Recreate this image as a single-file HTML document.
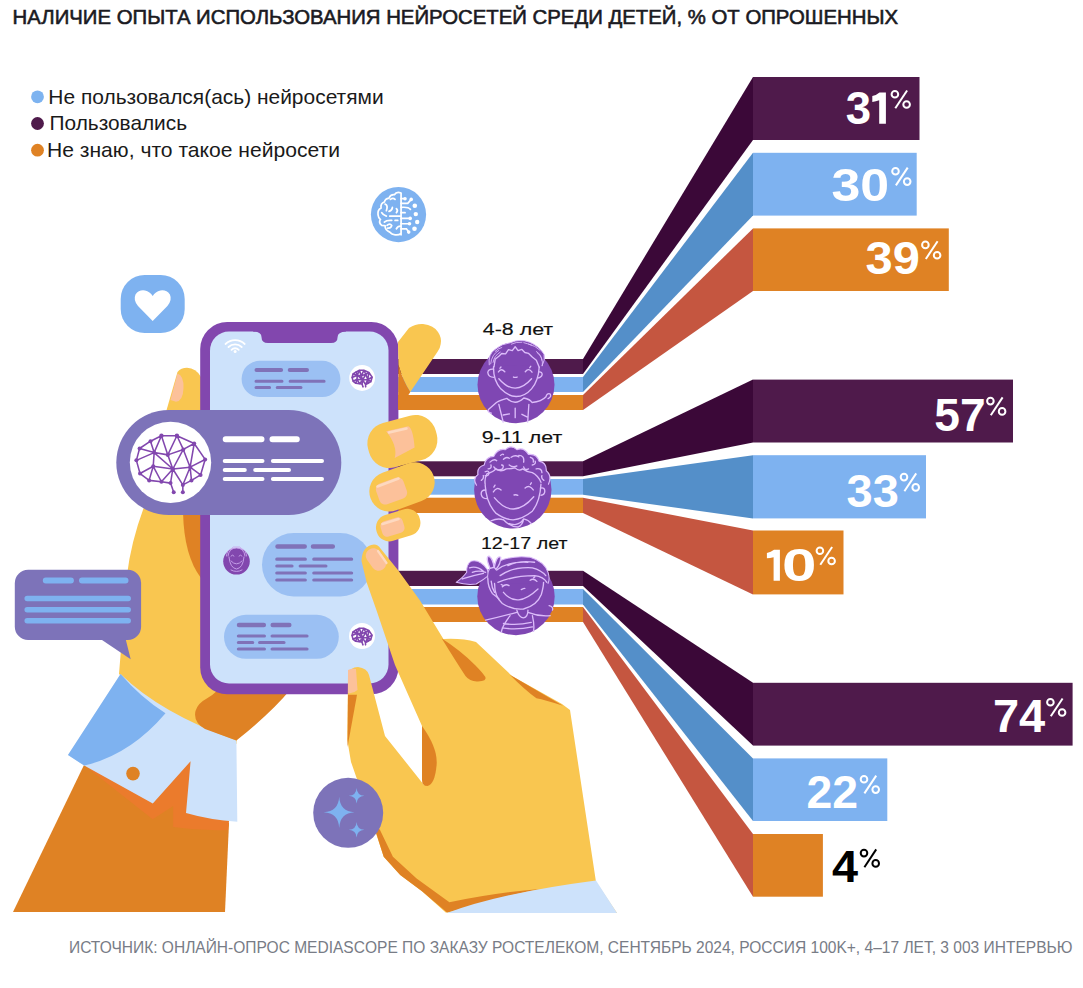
<!DOCTYPE html>
<html><head><meta charset="utf-8">
<style>
html,body{margin:0;padding:0;background:#fff;width:1083px;height:988px;overflow:hidden}
svg{display:block}
text{font-family:"Liberation Sans",sans-serif}
</style></head><body>
<svg width="1083" height="988" viewBox="0 0 1083 988">
<rect width="1083" height="988" fill="#fff"/>
<!-- TITLE -->
<text id="tt" x="12.59" y="23.9" font-size="20.9" fill="#1a1a22" stroke="#1a1a22" stroke-width="0.6" textLength="885.41" lengthAdjust="spacingAndGlyphs">НАЛИЧИЕ ОПЫТА ИСПОЛЬЗОВАНИЯ НЕЙРОСЕТЕЙ СРЕДИ ДЕТЕЙ, % ОТ ОПРОШЕННЫХ</text>
<!-- LEGEND -->
<circle cx="37.5" cy="96.8" r="6.4" fill="#7db3f0"/>
<circle cx="37.5" cy="123.5" r="6.4" fill="#4f1a4b"/>
<circle cx="37.5" cy="150.2" r="6.4" fill="#df8224"/>
<text id="l1" x="48.37" y="104" font-size="20.6" fill="#1a1a1a" textLength="335.25" lengthAdjust="spacingAndGlyphs">Не пользовался(ась) нейросетями</text>
<text id="l2" x="49.55" y="130.3" font-size="20.6" fill="#1a1a1a" textLength="137.47" lengthAdjust="spacingAndGlyphs">Пользовались</text>
<text id="l3" x="46.98" y="156.7" font-size="20.6" fill="#1a1a1a" textLength="293.04" lengthAdjust="spacingAndGlyphs">Не знаю, что такое нейросети</text>
<!-- FOOTER -->
<text id="ft" x="69.00" y="952.8" font-size="17.1" fill="#787c86" textLength="1003.40" lengthAdjust="spacingAndGlyphs">ИСТОЧНИК: ОНЛАЙН-ОПРОС MEDIASCOPE ПО ЗАКАЗУ РОСТЕЛЕКОМ, СЕНТЯБРЬ 2024, РОССИЯ 100K+, 4–17 ЛЕТ, 3 003 ИНТЕРВЬЮ</text>

<!-- BAR SIDES -->
<g id="sides">
<polygon points="583,359 753,77 753,140 583,374" fill="#3b0838"/>
<polygon points="583,377 753,152.8 753,215.6 583,392" fill="#548fc9"/>
<polygon points="583,395 753,228.4 753,291 583,410" fill="#c55640"/>

<polygon points="583,461.3 753,379.6 753,442.5 583,476.3" fill="#3b0838"/>
<polygon points="583,479 753,455.2 753,518.4 583,494.7" fill="#548fc9"/>
<polygon points="583,497.7 753,530.5 753,594.4 583,513" fill="#c55640"/>

<polygon points="583,570.8 753,682.8 753,745.6 583,586" fill="#3b0838"/>
<polygon points="583,589 753,758.4 753,821 583,604.5" fill="#548fc9"/>
<polygon points="583,607 753,834 753,896.7 583,622" fill="#c55640"/>
</g>
<!-- BARS -->
<g id="bars">
<rect x="753" y="77" width="166.5" height="63" fill="#4f1a4b"/>
<rect x="753" y="152.8" width="163.7" height="62.8" fill="#7eb2f0"/>
<rect x="753" y="228.4" width="195.8" height="62.6" fill="#df8224"/>

<rect x="753" y="379.6" width="260" height="62.9" fill="#4f1a4b"/>
<rect x="753" y="455.2" width="173" height="63.2" fill="#7eb2f0"/>
<rect x="753" y="530.5" width="90.5" height="63.9" fill="#df8224"/>

<rect x="753" y="682.8" width="319.6" height="62.8" fill="#4f1a4b"/>
<rect x="753" y="758.4" width="134.3" height="62.6" fill="#7eb2f0"/>
<rect x="753" y="834" width="69.9" height="62.7" fill="#df8224"/>
</g>
<!-- PERCENT LABELS -->
<g>
<text x="845.79" y="124.43" font-size="46.76" font-weight="bold" fill="#fff" textLength="25.36" lengthAdjust="spacingAndGlyphs">3</text>
<text x="831.46" y="200.54" font-size="46.48" font-weight="bold" fill="#fff" textLength="57.63" lengthAdjust="spacingAndGlyphs">30</text>
<text x="865.52" y="274.43" font-size="46.90" font-weight="bold" fill="#fff" textLength="54.35" lengthAdjust="spacingAndGlyphs">39</text>
<text x="934.32" y="430.64" font-size="46.14" font-weight="bold" fill="#fff" textLength="51.34" lengthAdjust="spacingAndGlyphs">57</text>
<text x="846.56" y="506.53" font-size="46.76" font-weight="bold" fill="#fff" textLength="52.33" lengthAdjust="spacingAndGlyphs">33</text>
<text x="781.92" y="581.14" font-size="46.48" font-weight="bold" fill="#fff" textLength="34.44" lengthAdjust="spacingAndGlyphs">0</text>
<text x="992.92" y="732.40" font-size="45.36" font-weight="bold" fill="#fff" textLength="52.29" lengthAdjust="spacingAndGlyphs">74</text>
<text x="806.51" y="808.40" font-size="46.29" font-weight="bold" fill="#fff" textLength="51.55" lengthAdjust="spacingAndGlyphs">22</text>
<text x="832.06" y="881.90" font-size="45.07" font-weight="bold" fill="#000" textLength="26.03" lengthAdjust="spacingAndGlyphs">4</text>
<g transform="translate(890.5,90.0)" fill="none" stroke="#fff" stroke-width="2"><circle cx="4.4" cy="4.2" r="3.3"/><circle cx="16.1" cy="14.5" r="3.3"/><path d="M16.6,0.5 L4.8,18.3"/></g>
<g transform="translate(891.1,167.1)" fill="none" stroke="#fff" stroke-width="2"><circle cx="4.4" cy="4.2" r="3.3"/><circle cx="16.1" cy="14.5" r="3.3"/><path d="M16.6,0.5 L4.8,18.3"/></g>
<g transform="translate(921.0,240.7)" fill="none" stroke="#fff" stroke-width="2"><circle cx="4.4" cy="4.2" r="3.3"/><circle cx="16.1" cy="14.5" r="3.3"/><path d="M16.6,0.5 L4.8,18.3"/></g>
<g transform="translate(986.0,396.9)" fill="none" stroke="#fff" stroke-width="2"><circle cx="4.4" cy="4.2" r="3.3"/><circle cx="16.1" cy="14.5" r="3.3"/><path d="M16.6,0.5 L4.8,18.3"/></g>
<g transform="translate(899.6,472.9)" fill="none" stroke="#fff" stroke-width="2"><circle cx="4.4" cy="4.2" r="3.3"/><circle cx="16.1" cy="14.5" r="3.3"/><path d="M16.6,0.5 L4.8,18.3"/></g>
<g transform="translate(815.5,546.5)" fill="none" stroke="#fff" stroke-width="2"><circle cx="4.4" cy="4.2" r="3.3"/><circle cx="16.1" cy="14.5" r="3.3"/><path d="M16.6,0.5 L4.8,18.3"/></g>
<g transform="translate(1046.0,698.0)" fill="none" stroke="#fff" stroke-width="2"><circle cx="4.4" cy="4.2" r="3.3"/><circle cx="16.1" cy="14.5" r="3.3"/><path d="M16.6,0.5 L4.8,18.3"/></g>
<g transform="translate(859.6,775.1)" fill="none" stroke="#fff" stroke-width="2"><circle cx="4.4" cy="4.2" r="3.3"/><circle cx="16.1" cy="14.5" r="3.3"/><path d="M16.6,0.5 L4.8,18.3"/></g>
<g transform="translate(859.6,848.9)" fill="none" stroke="#000" stroke-width="2"><circle cx="4.4" cy="4.2" r="3.3"/><circle cx="16.1" cy="14.5" r="3.3"/><path d="M16.6,0.5 L4.8,18.3"/></g>

<path d="M885.9,92.6 L885.9,123.8 L879.2,123.8 L879.2,100.3 Q876,101.6 872.3,102.1 L872.3,96.1 Q877,95 879.5,92.6 Z" fill="#fff"/>
<path d="M779.9,549.7 L779.9,580.7 L773.6,580.7 L773.6,557.2 Q770,558 766.9,558.3 L766.9,553 Q771,552 774,549.7 Z" fill="#fff"/>
</g>
<!-- STRIPES -->
<g id="stripes">
<rect x="398" y="359" width="185" height="15" fill="#4f1a4b"/>
<rect x="398" y="377" width="185" height="15" fill="#7eb2f0"/>
<rect x="398" y="395" width="185" height="15" fill="#df8224"/>
<rect x="398" y="461.3" width="185" height="15" fill="#4f1a4b"/>
<rect x="398" y="479" width="185" height="15.7" fill="#7eb2f0"/>
<rect x="398" y="497.7" width="185" height="15.3" fill="#df8224"/>
<rect x="398" y="570.8" width="185" height="15.2" fill="#4f1a4b"/>
<rect x="398" y="589" width="185" height="15.5" fill="#7eb2f0"/>
<rect x="398" y="607" width="185" height="15" fill="#df8224"/>
</g>
<!-- AGE LABELS -->
<g font-size="17" fill="#111" stroke="#111" stroke-width="0.15">
<text id="a1" x="482.88" y="334.9" textLength="70.25" lengthAdjust="spacingAndGlyphs">4-8 лет</text>
<text id="a2" x="481.74" y="443.4" textLength="80.49" lengthAdjust="spacingAndGlyphs">9-11 лет</text>
<text id="a3" x="480.93" y="548.7" textLength="86.51" lengthAdjust="spacingAndGlyphs">12-17 лет</text>
</g>
<!-- AVATARS -->
<g id="avatars">
<circle cx="516" cy="384.8" r="38.5" fill="#7f47b3"/>
<g transform="translate(470,335) scale(0.09615)" fill="none" stroke="#dcbcfa" stroke-width="14" stroke-linecap="round" stroke-linejoin="round">
<path d="M200,310 Q185,200 260,150 Q330,90 420,80 Q520,35 620,75 Q720,115 770,200 Q785,260 750,320 Z" fill="#7f47b3" stroke="none"/><path d="M200,310 Q185,200 260,150 Q330,90 420,80 Q520,35 620,75 Q720,115 770,200 Q785,260 750,320" stroke-width="10"/>
<path d="M250,330 L262,252 L300,222 L330,192 L370,197 L400,152 L440,162 L470,122 L500,162 L540,150 L570,182 L610,192 L650,232 L690,262 L720,335"/>
<path d="M245,330 Q240,470 320,560 Q400,640 480,640 Q570,640 640,560 Q710,480 720,335"/>
<path d="M245,355 Q190,350 185,390 Q190,440 250,440 M715,385 Q752,380 750,412 Q745,440 705,447"/>
<path d="M295,385 Q322,340 362,382 M575,382 Q610,337 645,387 M312,345 L322,333 M622,340 L632,325"/>
<path d="M452,437 Q470,445 490,437"/>
<path d="M215,300 Q225,200 300,160 M240,285 Q250,215 315,178 M262,170 Q290,140 330,130 M700,185 Q765,235 752,320 M690,172 Q745,205 748,262 M610,95 Q680,110 730,160 M430,95 Q480,70 540,75 M560,80 Q600,90 640,105" stroke-width="9"/>
<path d="M300,455 Q470,650 640,455"/>
<path d="M385,660 Q470,740 560,655 M385,660 Q310,680 275,702 L195,772 Q175,800 222,812 M560,655 Q625,668 645,702 Q745,692 790,642 Q800,602 832,612 Q852,642 812,662 M300,722 L345,905 M612,722 L600,905 M345,832 L410,820 M540,825 L592,852 M470,760 L470,860"/>
</g>

<circle cx="512.8" cy="489.8" r="38.7" fill="#7f47b3"/>
<g transform="translate(465,440) scale(0.09615)" fill="none" stroke="#dcbcfa" stroke-width="14" stroke-linecap="round" stroke-linejoin="round">
<path d="M120,470 Q75,400 135,360 Q121,281 200,260 Q215,172 300,170 Q341,83 420,100 Q477,45 540,100 Q613,72 660,150 Q745,139 770,220 Q850,235 845,320 Q908,371 868,460 L790,520 L210,520 Z" fill="#7f47b3" stroke="none"/><path d="M120,470 Q75,400 135,360 Q121,281 200,260 Q215,172 300,170 Q341,83 420,100 Q477,45 540,100 Q613,72 660,150 Q745,139 770,220 Q850,235 845,320 Q908,371 868,460" stroke-width="12"/>
<path d="M210,460 Q200,400 230,350 Q300,330 320,300 Q370,340 430,300 Q480,300 520,290 Q560,330 600,300 Q640,330 700,340 Q760,370 790,440"/>
<path d="M170,420 Q200,400 190,370 M820,420 Q790,400 800,370 M240,300 Q280,300 270,260 M700,260 Q740,250 730,220 M480,180 Q520,150 560,175 M400,200 Q430,170 460,190 M260,230 Q300,190 330,215 M300,280 Q330,330 390,300 Q410,260 380,260 M460,260 Q500,290 540,270 M560,160 Q620,160 610,230 M610,280 Q620,320 660,300 M210,330 Q250,310 250,350 Q240,380 210,370 M680,180 Q720,190 710,230 M740,300 Q800,290 800,340 M370,160 Q390,140 400,150"/>
<path d="M210,470 Q220,650 320,760 Q420,830 500,830 Q600,820 700,740 Q780,640 790,460"/>
<path d="M215,520 Q160,520 170,570 Q180,610 230,610 M785,500 Q830,490 830,530 Q830,570 790,575"/>
<path d="M295,540 Q330,480 375,520 M625,500 Q670,460 710,520 M300,490 L312,470 M680,462 L690,445"/>
<path d="M510,572 Q530,565 550,575"/>
<path d="M305,600 Q500,840 715,590"/>
<path d="M270,840 Q340,810 400,830 Q440,880 520,880 Q580,870 610,820 Q660,830 690,870 M400,830 Q470,905 550,905 Q600,885 610,820"/>
</g>

<circle cx="516" cy="596.5" r="38.7" fill="#7f47b3"/>
<g transform="translate(450,550) scale(0.11136)" fill="none" stroke="#dcbcfa" stroke-width="12" stroke-linecap="round" stroke-linejoin="round">
<path d="M335,175 Q270,80 190,100 Q145,130 150,200 Q120,245 55,290 Q150,318 235,305 Q305,265 348,228 Z" fill="#7f47b3" stroke-width="9"/>
<path d="M340,260 Q325,150 430,105 Q560,45 720,65 Q850,105 880,200 Q900,260 880,300 L400,300 Z" fill="#7f47b3" stroke="none"/><path d="M340,260 Q325,150 430,105 Q560,45 720,65 Q850,105 880,200 Q900,260 880,300" stroke-width="9"/>
<path d="M175,160 Q240,140 300,190 M110,260 Q200,230 300,210 M200,200 Q260,180 320,200"/>
<path d="M360,165 Q315,60 350,55 Q385,75 395,155 Z M398,155 Q420,45 455,65 Q458,120 412,175 Z" fill="#7f47b3"/>
<path d="M420,180 Q520,100 700,110 M450,230 Q560,150 740,160 Q820,180 860,230 M430,290 Q580,230 760,230 Q840,240 870,290 M520,140 Q620,90 760,110"/>
<path d="M400,300 Q400,420 470,480 Q560,540 660,530 Q780,500 820,400 Q840,330 840,290"/>
<path d="M340,260 Q340,330 380,390 Q420,420 440,440 M370,280 Q375,340 400,380"/>
<path d="M470,330 Q500,300 530,320 M720,272 Q750,250 780,282 M460,310 L480,320 M752,250 L762,240"/>
<path d="M640,355 Q660,345 672,345"/>
<path d="M480,380 Q600,530 790,350"/>
<path d="M600,540 Q620,610 660,610 Q700,600 700,540 M320,630 Q450,600 600,560 M700,560 Q800,600 900,590 M540,590 Q470,680 460,740 M740,590 Q760,680 750,730 M480,660 Q600,680 730,650 M470,700 Q600,720 740,690 M890,500 Q930,510 920,540"/>
</g>
</g>

<!-- ILLUSTRATION -->
<g id="illus">

<!-- LEFT SLEEVE -->
<polygon points="13,912 225,912 229,823 84,765" fill="#df8224"/>
<path d="M84,765 L152.7,819.2 L173.2,806 L173.2,827 Q200,831 228,830 L236,760 L190.9,750 Z" fill="#eb7b2c"/>
<!-- LEFT PALM -->
<path d="M150,470 L240,470 L240,700 L236.4,744 Q160,717 119,674 L127,575 Q133,525 160,470 Z" fill="#f9c650"/>
<path d="M183,512 L201,512 L201,578 Q184,556 183,512 Z" fill="#df8224"/>
<!-- CUFF -->
<path d="M68,755 L120.6,674 Q160,713 236.4,740.5 L237.3,821.7 Q210,820 186,813 L190.6,761.2 L152.8,803.4 L84.2,765.6 Z" fill="#cde2fb"/>
<path d="M68,755 L120.6,674 Q140,697 165.5,713.3 Q130,755 84.2,765.6 Z" fill="#7eb2f0"/>
<circle cx="133" cy="773.6" r="6.8" fill="#df8224"/>
<!-- orange fingers under phone -->
<path d="M218,690 L290,690 Q272,712 236.4,740.5 L205,729 Q193,722 195.5,711 Q198,703 206,699 Q213,695 218,690 Z" fill="#df8224"/>
<!-- LEFT THUMB above bubble -->
<path d="M166,412 L177.5,372 Q181,367.8 187,367.8 Q196,368 201,377 L201,412 Z" fill="#f9c650"/>
<path d="M177.5,373.5 Q184,376 183.5,388 Q183,401 176,401.8 L170.5,400 Z" fill="#fcc19a"/>

<!-- PHONE -->
<rect x="200.2" y="322" width="198.2" height="372.3" rx="27" fill="#8247ae"/>
<rect x="210" y="331.5" width="178.5" height="352" rx="19" fill="#cde2fb"/>
<path d="M253,330 L346,330 L346,331.5 Q337.6,332 337.6,337 Q337.6,343 331,343 L268,343 Q261.5,343 261.5,337 Q261.5,332 253,331.5 Z" fill="#8247ae"/>
<!-- wifi -->
<g fill="none" stroke="#fff" stroke-width="1.8" stroke-linecap="round">
<path d="M225.5,344 A14,14 0 0 1 244.7,344"/>
<path d="M228.5,347 A9.5,9.5 0 0 1 241.7,347"/>
<path d="M231.5,349.8 A5,5 0 0 1 238.7,349.8"/>
</g>
<circle cx="235.1" cy="351.6" r="1.5" fill="#fff"/>

<!-- SCREEN BUBBLES -->
<rect x="241.6" y="360.8" width="98.8" height="36.2" rx="18" fill="#9bc0f3"/>
<g stroke="#8072b8" stroke-linecap="round">
<path d="M256.5,370.1 H281.1 M289.7,370.1 H307" stroke-width="4"/>
<path d="M256,381.2 H282 M290.1,381.2 H324.1 M256,387.6 H269.6 M277.2,387.6 H301" stroke-width="3"/>
</g>
<circle cx="362.1" cy="378" r="12.9" fill="#fff"/>
<g transform="translate(362.1,378.5) scale(0.0265) translate(-502,-505)" stroke="#8247ae" fill="#8247ae" stroke-width="60">
<g fill="none" stroke-linejoin="round" stroke-linecap="round">
<path d="M400,195 L570,195 L760,280 L880,455 L830,625 L730,685 L635,735 M500,715 L400,700 L265,685 L165,610 L125,465 L160,335 L280,255 L400,195 M400,195 L320,380 M280,255 L320,380 L160,335 M320,380 L125,465 M400,195 L470,405 L570,195 L640,345 L760,280 M470,405 L640,345 M320,380 L470,405 M320,380 L525,560 M320,380 L310,530 L165,610 M310,530 L265,685 M310,530 L400,700 M310,530 L525,560 L400,700 M525,560 L500,715 L535,815 M470,405 L525,560 L640,345 L715,540 L760,280 M715,540 L880,455 M715,540 L830,625 M715,540 L730,685 M715,540 L635,735 L525,560 L715,540 M635,735 L635,815"/>
</g>
<g stroke="none">
<circle cx="400" cy="195" r="24"/><circle cx="570" cy="195" r="24"/><circle cx="280" cy="255" r="22"/><circle cx="160" cy="335" r="22"/><circle cx="760" cy="280" r="22"/><circle cx="640" cy="345" r="22"/><circle cx="320" cy="380" r="22"/><circle cx="470" cy="405" r="22"/><circle cx="125" cy="465" r="22"/><circle cx="880" cy="455" r="22"/><circle cx="310" cy="530" r="22"/><circle cx="525" cy="560" r="24"/><circle cx="715" cy="540" r="22"/><circle cx="165" cy="610" r="22"/><circle cx="830" cy="625" r="22"/><circle cx="265" cy="685" r="22"/><circle cx="400" cy="700" r="22"/><circle cx="500" cy="715" r="22"/><circle cx="635" cy="735" r="22"/><circle cx="730" cy="685" r="22"/><circle cx="535" cy="815" r="22"/><circle cx="635" cy="815" r="22"/>
</g>
</g>

<rect x="262" y="533" width="110" height="63.4" rx="31.7" fill="#9bc0f3"/>
<g stroke="#8072b8" stroke-linecap="round">
<path d="M277.5,546.5 H304.7 M313,546.5 H332.8" stroke-width="4.5"/>
<path d="M276.8,559.2 H305.3 M313.8,559.2 H351.6 M276.8,566 H292 M300.2,566 H325.9 M276.8,573 H305.3 M313.8,573 H351.6 M276.8,580 H305.3 M313.8,580 H351.6" stroke-width="3.2"/>
</g>
<circle cx="236.5" cy="561.3" r="13.3" fill="#8247ae"/>
<g fill="none" stroke="#c9a6ec" stroke-width="0.9" stroke-linecap="round">
<path d="M228,556 Q229,548 236.5,548 Q244,548 245,556 M229,557 Q230,568 236.5,569 Q243,568 244,557 M231,561 Q236.5,567 242,561 M231,556 Q232.5,554 234,556 M239,556 Q240.5,554 242,556 M226.5,556 Q227,550 231,549 Q233,546 236.5,547 Q240,546 242,549 Q246,550 246.5,556 M231,570 Q236.5,573 242,570"/>
</g>

<rect x="224" y="614.8" width="114.8" height="44" rx="22" fill="#9bc0f3"/>
<g stroke="#8072b8" stroke-linecap="round">
<path d="M239,625.1 H263.8 M272.7,625.1 H289.3" stroke-width="4.5"/>
<path d="M238.4,636 H264.4 M272.1,636 H307 M238.4,642.5 H252.7 M259.6,642.5 H284 M238.4,649 H264.4 M272.1,649 H307" stroke-width="3.2"/>
</g>
<circle cx="362" cy="636" r="13" fill="#fff"/>
<g transform="translate(362,636.5) scale(0.0265) translate(-502,-505)" stroke="#8247ae" fill="#8247ae" stroke-width="60">
<g fill="none" stroke-linejoin="round" stroke-linecap="round">
<path d="M400,195 L570,195 L760,280 L880,455 L830,625 L730,685 L635,735 M500,715 L400,700 L265,685 L165,610 L125,465 L160,335 L280,255 L400,195 M400,195 L320,380 M280,255 L320,380 L160,335 M320,380 L125,465 M400,195 L470,405 L570,195 L640,345 L760,280 M470,405 L640,345 M320,380 L470,405 M320,380 L525,560 M320,380 L310,530 L165,610 M310,530 L265,685 M310,530 L400,700 M310,530 L525,560 L400,700 M525,560 L500,715 L535,815 M470,405 L525,560 L640,345 L715,540 L760,280 M715,540 L880,455 M715,540 L830,625 M715,540 L730,685 M715,540 L635,735 L525,560 L715,540 M635,735 L635,815"/>
</g>
<g stroke="none">
<circle cx="400" cy="195" r="24"/><circle cx="570" cy="195" r="24"/><circle cx="280" cy="255" r="22"/><circle cx="160" cy="335" r="22"/><circle cx="760" cy="280" r="22"/><circle cx="640" cy="345" r="22"/><circle cx="320" cy="380" r="22"/><circle cx="470" cy="405" r="22"/><circle cx="125" cy="465" r="22"/><circle cx="880" cy="455" r="22"/><circle cx="310" cy="530" r="22"/><circle cx="525" cy="560" r="24"/><circle cx="715" cy="540" r="22"/><circle cx="165" cy="610" r="22"/><circle cx="830" cy="625" r="22"/><circle cx="265" cy="685" r="22"/><circle cx="400" cy="700" r="22"/><circle cx="500" cy="715" r="22"/><circle cx="635" cy="735" r="22"/><circle cx="730" cy="685" r="22"/><circle cx="535" cy="815" r="22"/><circle cx="635" cy="815" r="22"/>
</g>
</g>

<!-- RIGHT THUMB + FINGERS -->
<path d="M398,342 L409,328 Q416,323.5 423,324 Q434,325.5 438,332 Q442,338 440.7,344 Q440,349 437.7,351.5 L410.3,392 Q403,381 398.5,365 Z" fill="#f9c650"/>
<path d="M398.5,365 Q403,381 410.3,392 L399.2,409.5 L398,409.5 Z" fill="#df8224"/>

<rect x="367.4" y="418.5" width="70" height="46" rx="21" transform="rotate(-15 402.4 441.5)" fill="#f9c650"/>
<path d="M386.2,431.2 L408.2,426.3 Q413,428 414.6,447.5 L394.7,458.1 Q398,446 386.2,431.2 Z" fill="#fcc19a"/>
<rect x="368.5" y="466.9" width="67" height="40" rx="20" transform="rotate(-20 402 486.9)" fill="#f9c650"/>
<rect x="377" y="480" width="29" height="22" rx="6" transform="rotate(-20 391.5 491)" fill="#fcc19a"/>
<rect x="375.7" y="511.6" width="45" height="27" rx="13" transform="rotate(-17 398.2 525.1)" fill="#f9c650"/>
<rect x="381" y="519" width="23" height="16" rx="5" transform="rotate(-17 392.5 527)" fill="#fcc19a"/>

<g stroke="#fdd9c0" stroke-width="2.6" stroke-linecap="round" fill="none">
<path d="M389,432.5 L406.5,428.5"/><path d="M377.5,486.5 L398.5,478.5"/><path d="M382.5,524 L398.5,519"/>
</g>
<!-- BIG PURPLE BUBBLE -->
<rect x="116.3" y="410" width="225" height="105" rx="52.5" fill="#7d73b9"/>
<circle cx="170.5" cy="462.4" r="40.7" fill="#fff"/>
<g transform="translate(125,418) scale(0.09107)" stroke="#8247ae" fill="#8247ae" stroke-width="17">
<g fill="none" stroke-linejoin="round" stroke-linecap="round">
<path d="M400,195 L570,195 L760,280 L880,455 L830,625 L730,685 L635,735 M500,715 L400,700 L265,685 L165,610 L125,465 L160,335 L280,255 L400,195 M400,195 L320,380 M280,255 L320,380 L160,335 M320,380 L125,465 M400,195 L470,405 L570,195 L640,345 L760,280 M470,405 L640,345 M320,380 L470,405 M320,380 L525,560 M320,380 L310,530 L165,610 M310,530 L265,685 M310,530 L400,700 M310,530 L525,560 L400,700 M525,560 L500,715 L535,815 M470,405 L525,560 L640,345 L715,540 L760,280 M715,540 L880,455 M715,540 L830,625 M715,540 L730,685 M715,540 L635,735 L525,560 L715,540 M635,735 L635,815"/>
</g>
<g stroke="none">
<circle cx="400" cy="195" r="24"/><circle cx="570" cy="195" r="24"/><circle cx="280" cy="255" r="22"/><circle cx="160" cy="335" r="22"/><circle cx="760" cy="280" r="22"/><circle cx="640" cy="345" r="22"/><circle cx="320" cy="380" r="22"/><circle cx="470" cy="405" r="22"/><circle cx="125" cy="465" r="22"/><circle cx="880" cy="455" r="22"/><circle cx="310" cy="530" r="22"/><circle cx="525" cy="560" r="24"/><circle cx="715" cy="540" r="22"/><circle cx="165" cy="610" r="22"/><circle cx="830" cy="625" r="22"/><circle cx="265" cy="685" r="22"/><circle cx="400" cy="700" r="22"/><circle cx="500" cy="715" r="22"/><circle cx="635" cy="735" r="22"/><circle cx="730" cy="685" r="22"/><circle cx="535" cy="815" r="22"/><circle cx="635" cy="815" r="22"/>
</g>
</g>
<g stroke="#fff" stroke-linecap="round">
<path d="M225.7,439.3 H261.5 M272.5,439.3 H296.8" stroke-width="6"/>
<path d="M224.7,461 H262.5 M272.9,461 H322 M224.7,470 H244.8 M255.2,470 H289 M224.7,479 H262.5 M272.9,479 H322" stroke-width="4"/>
</g>

<!-- SMALL LEFT CHAT BUBBLE -->
<rect x="14.8" y="569.8" width="126.3" height="70.2" rx="13.3" fill="#7d73b9"/>
<polygon points="100.5,639 130.7,659.2 125.6,639" fill="#7d73b9"/>
<g stroke="#7eb2f0" stroke-linecap="round">
<path d="M45.8,580.4 H70.9 M82,580.4 H125.5" stroke-width="6"/>
<path d="M27.2,598.6 H128.2 M27.2,609.7 H128.2 M27.2,620.7 H128.2" stroke-width="5.5"/>
</g>

<!-- RIGHT HAND -->
<path d="M361.5,561 Q362,546 374,544.6 Q378,544.6 380.5,548.6 L398.3,570.5 L420,600.4 L443.4,639 Q462,638 476,642 L512,676 L562,704 L570,710 L596,882 L617,913 L445.7,912.5 L422,891.3 L400.2,874.9 L383.7,856.7 L376.5,834.8 L357.3,780 L351,761.9 L347.3,740 L348,675 Q350,667 358,667 Q367,668 369,675 L385,736 L424,785 L422,726 L395,665 L376.4,610 L366.7,582.6 Z" fill="#f9c650"/>
<!-- right hand shading -->
<path d="M348,694.7 L357,694.7 L347.5,747 Z" fill="#df8224"/>
<path d="M372,820 L383.7,856.7 L400.2,874.9 L422,891.3 L447,912.5 L465,908 Q500,897 540,889 Q500,892 449.4,902.2 L416.6,878.5 L392.9,856.7 L380,830 Z" fill="#df8224"/>
<path d="M422,726 Q438,748 436.6,765 Q435,784 427.5,786 Q422,786 422,780 Z" fill="#df8224"/>
<path d="M441.8,638.5 Q455,660 465.5,676.1 Q470,682 478,681.5 Q487,681 485.4,677 Q482,672 475,665 Q460,650 441.8,638.5 Z" fill="#df8224"/>
<path d="M509.8,674.7 L563,705.7 Q545,700 536.4,698.3 Q525,690 509.8,674.7 Z" fill="#df8224"/>
<path d="M447,913 Q500,893 596,880.5 L617,913 Z" fill="#cde2fb"/>
<rect x="-12" y="-7.5" width="24" height="15" rx="7" transform="translate(376,559.5) rotate(54)" fill="#fcc19a"/>
<path d="M378,551 L386.5,563" stroke="#fdd9c0" stroke-width="2.2" stroke-linecap="round"/>
<path d="M348,670 Q352,668 356,669 L357.5,690 Q353,694 348,693 Z" fill="#fcc19a"/>

<!-- SPARKLE CIRCLE -->
<circle cx="348.2" cy="812.8" r="35" fill="#7d73b9"/>
<g fill="#7eb2f0">
<path d="M339.2,796.8 Q340,811.5 354.5,812.3 Q340,813 339.2,828 Q338.4,813 323.7,812.3 Q338.4,811.5 339.2,796.8 Z"/>
<path d="M356.6,788 Q357,795.4 364.4,795.8 Q357,796.2 356.6,803.6 Q356.2,796.2 348.8,795.8 Q356.2,795.4 356.6,788 Z"/>
<path d="M356.6,821.9 Q357,829.3 364.4,829.7 Q357,830.1 356.6,837.5 Q356.2,830.1 348.8,829.7 Q356.2,829.3 356.6,821.9 Z"/>
</g>

<!-- HEART ICON -->
<rect x="120.7" y="275" width="64" height="58" rx="24" fill="#7eb2f0"/>
<path d="M152.7,321 L138,306 Q133,300 135.5,294.5 Q139,289.5 145,290.5 Q150,291.5 152.7,296 Q155.4,291.5 160.4,290.5 Q166.4,289.5 169.9,294.5 Q172.4,300 167.4,306 Z" fill="#fff"/>
<!-- BRAIN CIRCLE -->
<circle cx="398.5" cy="214.6" r="27.6" fill="#7eb2f0"/>
<g transform="translate(365,182) scale(0.0668)" fill="none" stroke="#fff" stroke-width="26" stroke-linecap="round">
<path d="M540,165 L540,790 M540,165 Q470,140 440,190 Q380,185 360,240 Q300,250 290,300 Q230,320 240,390 Q185,420 195,490 Q200,540 230,560 Q200,610 250,650 L300,655 Q300,720 370,750 Q400,790 450,790 Q500,800 540,770"/>
<path d="M380,260 Q420,230 450,260 M300,330 Q350,350 320,430 M360,440 Q410,420 410,380 M470,400 Q500,430 470,460 M250,460 Q270,500 320,510 M370,510 L530,510 M290,600 Q320,570 400,575 M450,575 L490,575 M330,650 Q370,610 400,650 Q390,700 340,690 M470,700 Q490,660 530,660"/>
<path d="M540,250 L595,250 M540,320 L640,320 L690,265 M540,380 Q650,370 680,410 M540,460 L600,460 M540,545 L675,545 M540,625 L665,625 M540,700 L620,700 L655,750"/>
</g>
<g fill="#fff">
<circle cx="405" cy="198.7" r="1.8"/><circle cx="411.2" cy="199.4" r="1.8"/><circle cx="414.8" cy="205.7" r="2.3"/><circle cx="415.8" cy="214.1" r="2.2"/><circle cx="410.2" cy="218.4" r="1.8"/><circle cx="417.2" cy="222" r="2.2"/><circle cx="409.5" cy="223.8" r="1.8"/><circle cx="414.5" cy="228.8" r="2.3"/><circle cx="408.7" cy="232.1" r="1.8"/>
</g>
</g>

</svg>
</body></html>
